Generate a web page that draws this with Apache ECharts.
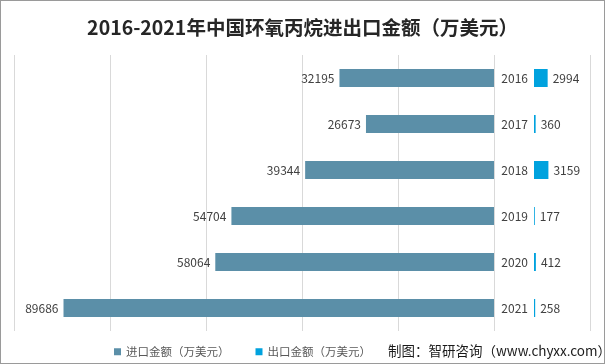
<!DOCTYPE html>
<html>
<head>
<meta charset="utf-8">
<script src="https://cdn.jsdelivr.net/npm/echarts@6/dist/echarts.min.js"></script>
<style>
html,body{margin:0;padding:0;background:#fff;}
#c{width:605px;height:364px;box-sizing:border-box;border:1px solid #9a9a9a;}
</style>
</head>
<body>
<div id="c"></div>
<script>
const years = ['2016','2017','2018','2019','2020','2021'];
const importValues = [32195, 26673, 39344, 54704, 58064, 89686];
const exportValues = [2994, 360, 3159, 177, 412, 258];
const titleText = '2016-2021年中国环氧丙烷进出口金额（万美元）';
const importName = '进口金额（万美元）';
const exportName = '出口金额（万美元）';
const sourceText = '制图：智研咨询（www.chyxx.com）';

const font = '"Noto Sans CJK SC", "Noto Sans", sans-serif';
const chart = echarts.init(document.getElementById('c'), null, {renderer:'canvas'});
chart.setOption({
  animation: false,
  textStyle: {fontFamily: font},
  title: {
    text: titleText, left: 'center', top: 12,
    textStyle: {fontSize: 19.5, fontWeight: 'bold', color: '#262626', fontFamily: font}
  },
  legend: {
    data: [importName, exportName],
    left: 108, top: 340, itemWidth: 7, itemHeight: 7, itemGap: 26, icon: 'rect',
    textStyle: {fontSize: 11.5, color: '#595959', fontFamily: font}
  },
  grid: [
    {left: 13, right: 14, top: 54, bottom: 32},
    {left: 533, width: 57, top: 54, bottom: 32}
  ],
  xAxis: [
    {type: 'value', gridIndex: 0, inverse: true, min: -20000, max: 100000, interval: 20000,
     axisLabel: {show: false}, axisLine: {show: false}, axisTick: {show: false},
     splitLine: {show: true, lineStyle: {color: '#d9d9d9', width: 1}}},
    {type: 'value', gridIndex: 1, min: 0, max: 12500,
     axisLabel: {show: false}, axisLine: {show: false}, axisTick: {show: false},
     splitLine: {show: false}}
  ],
  yAxis: [
    {type: 'category', gridIndex: 0, data: years, inverse: true,
     axisLabel: {show: false}, axisLine: {show: false}, axisTick: {show: false}},
    {type: 'category', gridIndex: 1, data: years, inverse: true, position: 'left',
     axisLabel: {show: true, margin: 6, fontSize: 12, color: '#404040', fontFamily: font},
     axisLine: {show: false}, axisTick: {show: false}}
  ],
  series: [
    {name: importName, type: 'bar', xAxisIndex: 0, yAxisIndex: 0, data: importValues,
     barWidth: 18, itemStyle: {color: '#5b8fa8'},
     label: {show: true, position: 'left', distance: 5, fontSize: 12, color: '#404040', fontFamily: font}},
    {name: exportName, type: 'bar', xAxisIndex: 1, yAxisIndex: 1, data: exportValues,
     barWidth: 18, itemStyle: {color: '#00a2de'},
     label: {show: true, position: 'right', distance: 5, fontSize: 12, color: '#404040', fontFamily: font}}
  ],
  graphic: [
    {type: 'text', left: 387, top: 343,
     style: {text: sourceText, fontSize: 13.5, fill: '#1a1a1a', fontFamily: font}}
  ]
});
</script>
</body>
</html>
